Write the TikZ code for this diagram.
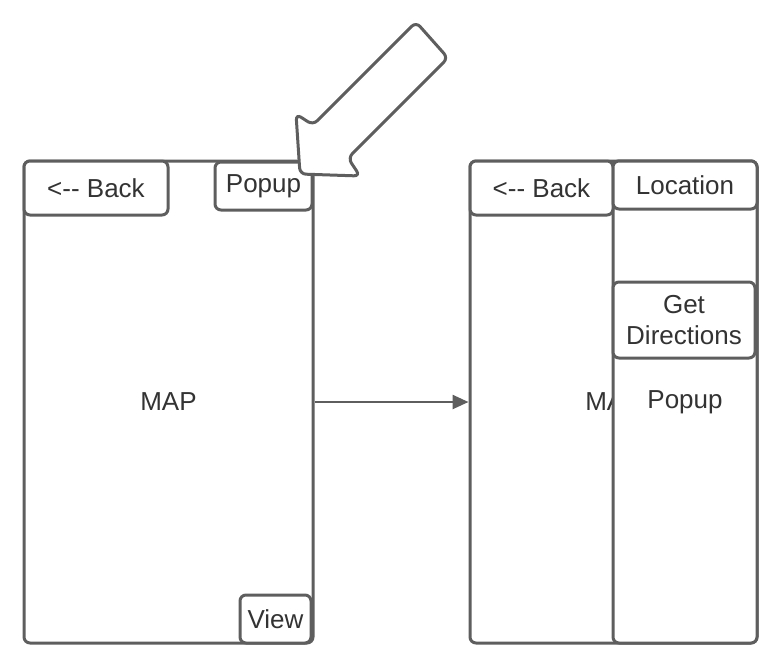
\documentclass[tikz,border=0pt]{standalone}
\usepackage{fontspec}
\setmainfont{Liberation Sans}
\usetikzlibrary{arrows.meta}

\definecolor{linegray}{HTML}{5E5E5E}
\definecolor{textgray}{HTML}{333333}

\begin{document}
\begin{tikzpicture}[x=1pt, y=-1pt, every node/.style={font=\fontsize{26}{31}\selectfont}]

    % Styles
    \tikzset{
        boxstyle/.style={rectangle, draw=linegray, line width=3pt, rounded corners=6pt, fill=white, text=textgray, inner sep=0pt, align=center},
        screen/.style={boxstyle, minimum height=482pt},
        btn/.style={boxstyle},
        arrow/.style={-{Triangle[length=16pt, width=14pt]}, line width=2.5pt, linegray},
        bigarrow/.style={draw=linegray, line width=3pt, rounded corners=6pt, fill=white}
    }

    \useasboundingbox (0,0) rectangle (776,664);

    % Screens
    \node[screen, minimum width=289pt] (mapscreen) at (168.5, 402) {MAP};
    \node[screen, minimum width=287pt] (popscreen) at (613.5, 402) {MAP};

    % Buttons on the map screen
    \node[btn, minimum width=144pt, minimum height=54pt] (back1) at (96, 188) {<-{}- Back};
    \node[btn, minimum width=97pt, minimum height=48pt] (popupbtn) at (263.5, 186) {Popup};
    \node[btn, minimum width=71pt, minimum height=48pt] (viewbtn) at (275.5, 619) {View};

    % Popup panel
    \node[btn, minimum width=144pt, minimum height=482pt] (panel) at (685, 402) {Popup};
    \node[btn, minimum width=143pt, minimum height=54pt] (back2) at (541.5, 188) {<-{}- Back};
    \node[btn, minimum width=144pt, minimum height=48pt] (location) at (685, 185) {Location};
    \node[btn, minimum width=142pt, minimum height=76pt] (directions) at (684, 320) {Get\\Directions};

    % Arrows
    \draw[arrow] (mapscreen) -- (popscreen);
    \draw[bigarrow] (416,22) -- (448,58) -- (348,158) -- (360,176) -- (300,174) -- (296,114) -- (313,125) -- cycle;

\end{tikzpicture}
\end{document}
